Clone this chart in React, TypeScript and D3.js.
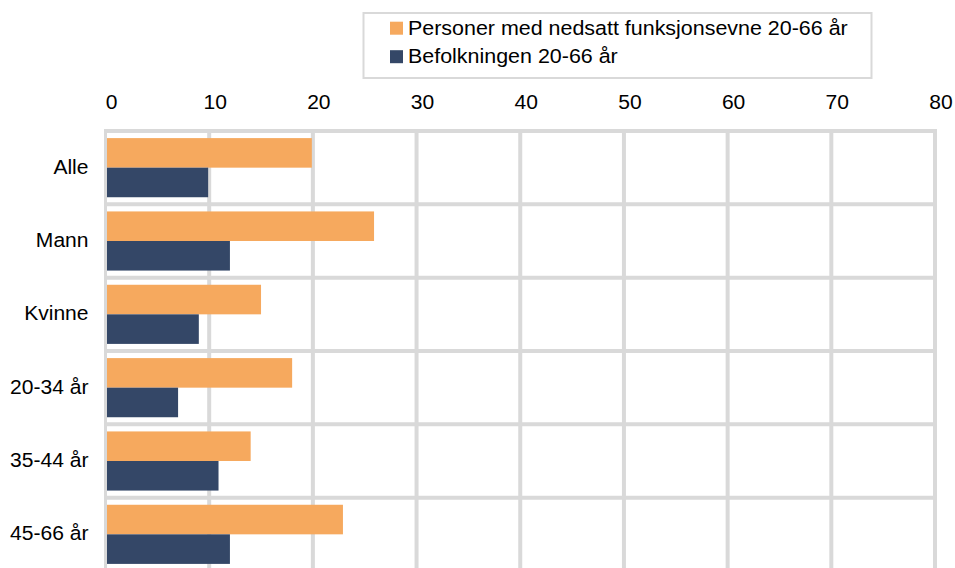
import React from "react";
import * as d3 from "d3";

const categories = ["Alle", "Mann", "Kvinne", "20-34 år", "35-44 år", "45-66 år"];
const seriesNames = ["Personer med nedsatt funksjonsevne 20-66 år", "Befolkningen 20-66 år"];
const disabledValues = [19.9, 25.9, 15.0, 18.0, 14.0, 22.9];
const populationValues = [9.9, 12.0, 9.0, 7.0, 10.9, 12.0];
const xTicks = [0, 10, 20, 30, 40, 50, 60, 70, 80];
const colors = ["#F6A95E", "#344767"];

const W = 955;
const H = 568;
const FONT = "'Liberation Sans', Arial, Helvetica, sans-serif";

export default function App() {
  const x = d3.scaleLinear().domain([0, 80]).range([105.5, 935]);
  const y = d3.scaleBand<string>().domain(categories).range([131, 571]).padding(0);
  const inner = d3
    .scaleBand<string>()
    .domain(seriesNames)
    .range([0, y.bandwidth()])
    .paddingInner(0)
    .paddingOuter(0.24);
  const seriesValues = [disabledValues, populationValues];
  const grid = "#D9D9D9";
  const fs = 19.5;

  return (
    <svg
      width={W}
      height={H}
      style={{ position: "absolute", left: 0, top: 0, display: "block", background: "#fff" }}
      fontFamily={FONT}
    >
      <rect x={0} y={0} width={W} height={H} fill="#fff" />
      {xTicks.map((t) =>
        t === 0 ? null : (
          <line key={"v" + t} x1={x(t)} x2={x(t)} y1={129} y2={573} stroke={grid} strokeWidth={4} />
        )
      )}
      {categories.map((c) => (
        <line key={"h" + c} x1={104} x2={937} y1={y(c)!} y2={y(c)!} stroke={grid} strokeWidth={4} />
      ))}
      {categories.map((c, i) =>
        seriesNames.map((s, j) => (
          <rect
            key={c + s}
            x={x(0)}
            y={y(c)! + inner(s)!}
            width={x(seriesValues[j][i]) - x(0)}
            height={inner.bandwidth()}
            fill={colors[j]}
          />
        ))
      )}
      <line x1={x(0)} x2={x(0)} y1={129} y2={573} stroke={grid} strokeWidth={3} />
      {xTicks.map((t) => (
        <text
          key={"t" + t}
          transform={`translate(${x(t) + 6},108.5) scale(1.08,1)`}
          textAnchor="middle"
          fontSize={fs}
          fill="#000"
        >
          {t}
        </text>
      ))}
      {categories.map((c) => (
        <text
          key={"c" + c}
          transform={`translate(88.5,${y(c)! + y.bandwidth() / 2}) scale(1.08,1)`}
          dy="0.3em"
          textAnchor="end"
          fontSize={fs}
          fill="#000"
        >
          {c}
        </text>
      ))}
      <rect x={363.5} y={13} width={508} height={65} fill="#fff" stroke={grid} strokeWidth={2} />
      {seriesNames.map((s, j) => (
        <g key={"l" + s}>
          <rect x={390} y={21.7 + j * 28.5} width={13} height={13} fill={colors[j]} />
          <text
            transform={`translate(408,${35 + j * 27.8}) scale(1.1,1)`}
            fontSize={fs}
            fill="#000"
          >
            {s}
          </text>
        </g>
      ))}
    </svg>
  );
}
